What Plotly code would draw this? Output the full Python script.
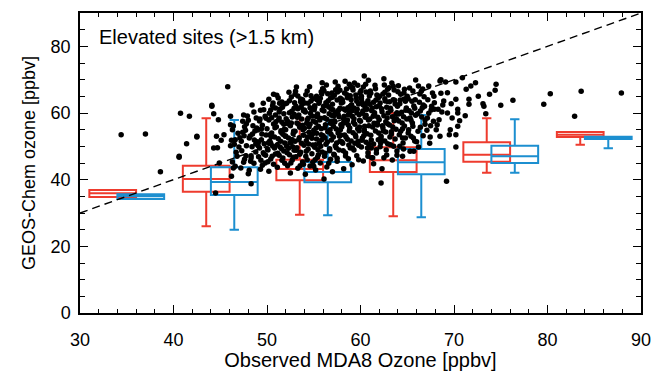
import plotly.graph_objects as go

# ---------------- data ----------------
bin_start = [30, 40, 50, 60, 70, 80]

red_q1 = [34.8, 36.4, 39.8, 42.3, 45.4, 52.8]
red_med = [35.9, 40.2, 43.2, 45.8, 47.5, 53.5]
red_q3 = [36.9, 44.2, 46.0, 49.7, 51.2, 54.3]
red_lo = [34.8, 26.0, 29.5, 29.0, 42.1, 50.5]
red_hi = [36.9, 58.4, 58.4, 60.0, 58.4, 54.3]

blue_q1 = [34.2, 35.4, 39.2, 41.6, 45.0, 52.2]
blue_med = [35.0, 39.3, 42.3, 45.2, 47.0, 52.5]
blue_q3 = [35.6, 43.7, 45.3, 49.2, 50.2, 52.9]
blue_lo = [34.2, 25.0, 29.3, 28.7, 42.1, 49.4]
blue_hi = [35.6, 57.9, 58.0, 59.4, 58.1, 52.9]

# scatter: (observed MDA8, GEOS-Chem) pairs
scatter_points = [
    # sparse left side
    (34.4, 53.5), (37.0, 53.7), (38.6, 42.4), (40.6, 47.0), (40.75, 59.9), (41.7, 59.0),
    (41.4, 50.8), (42.5, 53.0), (44.1, 62.0), (44.3, 59.8), (44.6, 53.0), (44.7, 49.6),
    (44.8, 58.0), (45.8, 67.9), (46.1, 59.0), (47.5, 59.4), (47.8, 56.8), (46.1, 56.5),
    (47.4, 54.2), (46.3, 55.0), (45.4, 53.5), (45.1, 51.8), (44.3, 49.5), (46.1, 50.2),
    (46.6, 52.0), (40.6, 46.7), (44.9, 45.0), (46.2, 41.0), (48.0, 41.8), (48.3, 38.8),
    (44.5, 36.0), (46.4, 43.5), (42.5, 52.8), (44.1, 62.3),
    # x 46-47
    (46.3, 45.3), (46.7, 48.2), (46.5, 50.6), (46.9, 53.9), (46.4, 56.1), (46.8, 47.0),
    (46.2, 51.8), (46.6, 44.0),
    # x 47-48
    (47.2, 43.5), (47.6, 46.1), (47.3, 48.7), (47.8, 50.2), (47.1, 52.6), (47.7, 54.8),
    (47.4, 57.5), (47.9, 59.1), (47.5, 45.2), (47.0, 49.8), (47.6, 55.9),
    (47.25, 51.5), (47.75, 47.2), (47.55, 53.2),
    # x 48-49
    (48.1, 42.8), (48.6, 44.9), (48.3, 46.5), (48.8, 48.3), (48.4, 49.9), (48.9, 51.4),
    (48.2, 53.1), (48.7, 54.6), (48.5, 56.2), (48.0, 57.8), (48.6, 60.3), (48.3, 47.2),
    (48.8, 50.7), (48.1, 52.5), (48.9, 55.5), (48.4, 62.4),
    (48.25, 45.5), (48.65, 51.9), (48.85, 58.5), (48.45, 53.7),
    # x 49-50
    (49.3, 43.1), (49.8, 45.0), (49.1, 46.9), (49.6, 48.1), (49.2, 49.5), (49.7, 50.8),
    (49.4, 52.0), (49.9, 53.4), (49.0, 54.9), (49.5, 56.3), (49.2, 57.6), (49.8, 59.0),
    (49.3, 60.8), (49.6, 62.9), (49.7, 47.6), (49.1, 51.3), (49.4, 55.2), (49.9, 58.4),
    (49.5, 44.3),
    (49.05, 50.2), (49.45, 53.7), (49.85, 47.3), (49.25, 58.2), (49.65, 61.0), (49.35, 45.8),
    # x 50-51
    (50.2, 42.5), (50.7, 44.6), (50.4, 46.2), (50.9, 47.7), (50.1, 48.9), (50.6, 50.1),
    (50.3, 51.6), (50.8, 52.8), (50.5, 54.0), (50.0, 55.3), (50.7, 56.7), (50.2, 57.9),
    (50.9, 59.4), (50.4, 60.9), (50.6, 62.2), (50.7, 65.6), (50.1, 45.4), (50.8, 49.5),
    (50.3, 53.5), (50.5, 58.6), (50.9, 61.5), (50.4, 50.9), (50.2, 64.1),
    (50.15, 51.1), (50.55, 47.0), (50.85, 55.6), (50.25, 59.9), (50.65, 63.0), (50.45, 52.9),
    (50.95, 57.4), (50.05, 49.2),
    # x 51-52
    (51.1, 43.7), (51.6, 45.8), (51.3, 47.3), (51.8, 48.6), (51.4, 49.8), (51.9, 51.0),
    (51.2, 52.3), (51.7, 53.6), (51.5, 54.7), (51.0, 55.9), (51.6, 57.2), (51.3, 58.5),
    (51.8, 59.8), (51.4, 61.2), (51.9, 62.7), (51.2, 64.5), (51.7, 46.5), (51.1, 50.4),
    (51.5, 54.2), (51.8, 56.6), (51.3, 60.3), (51.6, 63.3), (51.9, 44.9),
    (51.15, 47.9), (51.45, 51.5), (51.85, 55.1), (51.25, 58.0), (51.65, 61.7), (51.05, 65.3),
    (51.55, 49.3), (51.95, 53.0), (51.35, 62.9),
    # x 52-53
    (52.5, 42.0), (52.2, 44.2), (52.7, 45.9), (52.4, 47.5), (52.9, 48.8), (52.1, 50.0),
    (52.6, 51.3), (52.3, 52.5), (52.8, 53.8), (52.0, 55.0), (52.5, 56.2), (52.2, 57.5),
    (52.7, 58.8), (52.4, 60.1), (52.9, 61.4), (52.1, 62.9), (52.6, 64.8), (53.0, 65.6),
    (52.8, 46.7), (52.3, 49.4), (52.0, 53.1), (52.6, 57.0), (52.9, 59.6), (52.4, 63.7),
    (52.7, 51.9),
    (52.15, 48.1), (52.45, 51.0), (52.85, 54.5), (52.25, 56.8), (52.65, 60.5), (52.95, 63.1),
    (52.35, 66.2), (52.55, 45.0), (52.75, 49.9), (52.05, 58.3),
    # x 53-54
    (53.3, 43.4), (53.8, 45.3), (53.1, 46.9), (53.6, 48.2), (53.2, 49.6), (53.7, 50.9),
    (53.4, 52.0), (53.9, 53.3), (53.0, 54.5), (53.5, 55.7), (53.2, 57.0), (53.7, 58.2),
    (53.4, 59.4), (53.9, 60.7), (53.1, 62.0), (53.6, 63.4), (53.3, 65.1), (53.8, 64.0),
    (53.5, 47.6), (53.0, 51.5), (53.8, 56.3), (53.3, 61.3), (53.6, 64.2), (53.9, 44.6),
    (53.2, 58.9),
    (53.15, 48.8), (53.45, 52.6), (53.85, 55.0), (53.25, 58.7), (53.65, 61.7), (53.05, 66.5),
    (53.55, 44.2), (53.95, 50.3), (53.35, 56.6), (53.75, 62.6), (53.15, 67.8),
    # x 54-55
    (54.1, 41.6), (54.6, 44.1), (54.3, 46.0), (54.8, 47.8), (54.4, 49.1), (54.9, 50.4),
    (54.2, 51.7), (54.7, 53.0), (54.5, 54.2), (54.0, 55.4), (54.6, 56.6), (54.3, 57.9),
    (54.8, 59.1), (54.1, 60.3), (54.6, 61.6), (54.4, 62.9), (54.9, 64.3), (54.3, 66.6),
    (54.7, 65.2), (54.2, 48.5), (54.8, 52.4), (54.5, 55.9), (54.0, 60.9), (54.7, 63.6),
    (54.4, 58.4), (54.9, 45.2),
    (54.15, 47.0), (54.45, 50.7), (54.85, 53.6), (54.25, 56.9), (54.65, 59.9), (54.05, 63.0),
    (54.55, 67.9), (54.95, 57.6), (54.35, 52.8), (54.75, 61.3), (54.15, 65.5),
    # x 55-56
    (55.2, 42.9), (55.7, 45.0), (55.4, 46.7), (55.9, 48.3), (55.1, 49.7), (55.6, 51.0),
    (55.3, 52.2), (55.8, 53.5), (55.0, 54.8), (55.5, 56.0), (55.2, 57.2), (55.7, 58.4),
    (55.4, 59.7), (55.9, 60.9), (55.1, 62.2), (55.6, 63.5), (55.3, 65.0), (55.8, 66.4),
    (55.9, 69.1), (55.0, 44.0), (55.5, 47.5), (55.2, 50.5), (55.8, 55.3), (55.4, 58.9),
    (55.1, 61.7), (55.7, 64.4), (55.3, 53.9),
    (55.15, 46.0), (55.45, 49.0), (55.85, 52.0), (55.25, 55.5), (55.65, 57.9), (55.05, 61.0),
    (55.55, 62.9), (55.95, 67.3), (55.35, 64.0), (55.75, 50.0), (55.25, 59.0), (55.85, 65.7),
    # x 56-57
    (56.1, 40.2), (56.4, 43.8), (56.8, 46.1), (56.2, 47.9), (56.7, 49.3), (56.3, 50.6),
    (56.9, 51.9), (56.0, 53.2), (56.5, 54.4), (56.2, 55.6), (56.8, 56.9), (56.4, 58.1),
    (56.9, 59.3), (56.1, 60.6), (56.6, 61.8), (56.3, 63.1), (56.8, 64.5), (56.5, 65.8),
    (56.0, 67.2), (56.7, 48.7), (56.2, 52.6), (56.9, 57.5), (56.4, 62.4), (56.1, 66.6),
    (56.6, 44.9),
    (56.15, 47.0), (56.45, 51.3), (56.85, 53.6), (56.25, 56.5), (56.65, 59.8), (56.05, 62.0),
    (56.55, 63.7), (56.95, 66.0), (56.35, 68.4), (56.75, 55.0), (56.15, 58.6), (56.85, 61.2),
    # x 57-58
    (57.0, 42.4), (57.5, 45.5), (57.2, 47.4), (57.7, 48.9), (57.3, 50.2), (57.8, 51.5),
    (57.1, 52.8), (57.6, 54.0), (57.4, 55.2), (57.9, 56.5), (57.2, 57.7), (57.7, 58.9),
    (57.3, 60.2), (57.8, 61.4), (57.0, 62.6), (57.5, 63.9), (57.2, 65.3), (57.8, 66.8),
    (57.3, 69.3), (57.6, 68.0), (57.4, 49.6), (57.9, 53.4), (57.1, 56.0), (57.6, 59.6),
    (57.0, 64.7), (57.5, 46.4),
    (57.15, 47.6), (57.45, 51.0), (57.85, 55.0), (57.25, 57.3), (57.65, 60.8), (57.05, 61.0),
    (57.55, 66.3), (57.95, 63.0), (57.35, 67.0), (57.75, 53.0), (57.15, 59.2), (57.85, 64.4),
    # x 58-59
    (58.2, 43.3), (58.7, 46.3), (58.4, 48.0), (58.9, 49.5), (58.1, 50.9), (58.6, 52.1),
    (58.3, 53.4), (58.8, 54.6), (58.0, 55.9), (58.5, 57.1), (58.2, 58.3), (58.7, 59.5),
    (58.4, 60.8), (58.9, 62.0), (58.1, 63.2), (58.6, 64.6), (58.3, 66.0), (58.8, 68.6),
    (58.5, 67.2), (58.0, 51.4), (58.7, 56.4), (58.2, 61.2), (58.9, 65.2), (58.4, 47.1),
    (58.6, 57.9),
    (58.15, 48.7), (58.45, 52.8), (58.85, 55.5), (58.25, 59.0), (58.65, 61.6), (58.05, 64.0),
    (58.55, 65.5), (58.95, 67.8), (58.35, 69.5), (58.75, 50.4), (58.15, 56.9), (58.85, 60.2),
    # x 59-60
    (59.1, 44.5), (59.6, 47.2), (59.3, 48.9), (59.8, 50.3), (59.0, 51.6), (59.5, 52.9),
    (59.2, 54.1), (59.7, 55.3), (59.4, 56.6), (59.9, 57.8), (59.1, 59.0), (59.6, 60.2),
    (59.3, 61.5), (59.8, 62.7), (59.0, 64.0), (59.5, 65.4), (59.2, 66.9), (59.7, 68.3),
    (59.4, 50.9), (59.9, 55.8), (59.1, 60.7), (59.6, 63.5), (59.3, 58.3), (59.8, 46.0),
    (59.15, 49.5), (59.45, 53.4), (59.85, 54.7), (59.25, 57.2), (59.65, 61.1), (59.05, 62.5),
    (59.55, 64.6), (59.95, 66.1), (59.35, 69.0), (59.75, 51.5), (59.15, 67.6), (59.85, 59.5),
    # x 60-61
    (60.3, 45.6), (60.8, 48.1), (60.1, 49.8), (60.6, 51.2), (60.2, 52.5), (60.7, 53.8),
    (60.4, 55.0), (60.9, 56.2), (60.0, 57.5), (60.5, 58.7), (60.2, 59.9), (60.7, 61.1),
    (60.3, 62.4), (60.8, 63.7), (60.1, 65.0), (60.6, 66.3), (60.3, 67.8), (60.4, 71.1),
    (60.9, 50.6), (60.4, 54.5), (60.6, 59.3), (60.1, 64.3), (60.8, 47.0), (60.5, 61.8),
    (60.15, 51.8), (60.45, 56.0), (60.85, 57.9), (60.25, 60.6), (60.65, 62.9), (60.05, 66.7),
    (60.55, 68.6), (60.95, 65.1), (60.35, 53.2), (60.75, 49.5), (60.15, 63.3), (60.85, 69.8),
    # x 61-62
    (61.2, 46.6), (61.7, 49.0), (61.4, 50.7), (61.9, 52.0), (61.1, 53.3), (61.6, 54.6),
    (61.3, 55.8), (61.8, 57.0), (61.0, 58.2), (61.5, 59.5), (61.2, 60.7), (61.7, 61.9),
    (61.4, 63.2), (61.9, 64.5), (61.1, 65.9), (61.6, 67.3), (61.3, 46.6), (61.8, 56.4),
    (61.5, 60.1), (61.0, 62.6), (61.7, 48.0), (61.4, 44.8),
    (61.15, 51.9), (61.45, 56.9), (61.85, 58.7), (61.25, 61.5), (61.65, 63.9), (61.05, 66.6),
    (61.55, 68.3), (61.95, 54.0), (61.35, 59.0), (61.75, 65.4), (61.15, 49.5),
    # x 62-63
    (62.3, 43.3), (62.8, 47.4), (62.1, 49.9), (62.6, 51.6), (62.2, 53.0), (62.7, 54.3),
    (62.4, 55.5), (62.9, 56.8), (62.0, 58.0), (62.5, 59.2), (62.3, 60.4), (62.8, 61.7),
    (62.1, 63.0), (62.6, 64.3), (62.4, 65.7), (62.9, 67.1), (62.5, 70.3), (62.2, 52.3),
    (62.7, 57.4), (62.0, 62.2), (62.6, 66.2), (62.2, 39.0), (62.5, 46.6), (62.9, 50.8),
    (62.15, 51.0), (62.45, 54.6), (62.85, 58.5), (62.25, 61.3), (62.65, 63.6), (62.05, 65.0),
    (62.55, 68.4), (62.95, 60.0), (62.35, 56.2), (62.75, 48.9),
    # x 63-64
    (63.4, 45.9), (63.9, 48.6), (63.2, 50.5), (63.7, 52.2), (63.3, 53.7), (63.8, 55.1),
    (63.1, 56.4), (63.6, 57.7), (63.4, 58.9), (63.9, 60.1), (63.2, 61.4), (63.7, 62.7),
    (63.5, 64.0), (63.0, 65.4), (63.6, 66.9), (63.3, 54.4), (63.8, 59.6), (63.1, 63.4),
    (63.9, 47.3), (63.5, 68.0),
    (63.15, 52.8), (63.45, 55.8), (63.85, 58.2), (63.25, 60.8), (63.65, 63.8), (63.05, 67.6),
    (63.55, 50.0), (63.95, 62.0), (63.35, 69.0),
    # x 64-65
    (64.5, 47.0), (64.2, 50.0), (64.8, 52.5), (64.3, 54.5), (64.7, 56.1), (64.1, 57.6),
    (64.6, 58.9), (64.4, 60.2), (64.9, 61.5), (64.2, 62.8), (64.7, 64.2), (64.3, 65.6),
    (64.7, 67.1), (64.5, 55.3), (64.1, 59.7), (64.8, 63.5), (64.5, 52.5), (64.6, 49.2),
    (64.0, 66.4),
    (64.15, 53.5), (64.45, 57.0), (64.85, 60.8), (64.25, 63.9), (64.65, 66.0), (64.05, 68.2),
    (64.55, 51.0), (64.95, 58.2),
    # x 65-66
    (65.3, 48.5), (65.8, 51.6), (65.1, 54.0), (65.6, 56.0), (65.4, 57.8), (65.9, 59.3),
    (65.2, 60.7), (65.7, 62.1), (65.5, 63.5), (65.0, 65.0), (65.6, 66.6), (65.9, 69.9),
    (65.3, 58.5), (65.8, 61.4), (65.4, 53.0), (65.7, 48.5), (65.1, 64.3),
    (65.15, 55.0), (65.45, 60.0), (65.85, 64.0), (65.25, 67.5), (65.65, 52.5), (65.55, 57.0),
    # x 66-67
    (66.2, 49.8), (66.7, 53.2), (66.4, 55.7), (66.9, 57.9), (66.1, 59.8), (66.6, 61.5),
    (66.3, 63.2), (66.8, 64.9), (66.5, 66.5), (66.2, 68.1), (66.9, 56.6), (66.4, 60.6),
    (66.7, 62.4), (66.0, 51.4),
    (66.15, 54.5), (66.55, 58.8), (66.85, 62.0), (66.35, 65.7), (66.65, 67.2),
    # x 67-68
    (67.4, 50.9), (67.1, 54.8), (67.8, 57.5), (67.3, 59.9), (67.6, 62.0), (67.2, 64.0),
    (67.7, 66.0), (67.3, 68.1), (67.9, 61.1), (67.5, 56.2), (67.9, 63.1),
    (67.15, 58.5), (67.55, 60.9), (67.85, 65.0), (67.45, 52.8),
    # x 68-69
    (68.5, 53.0), (68.2, 56.5), (68.4, 58.0), (68.7, 60.3), (68.3, 61.1), (68.9, 63.6),
    (68.6, 65.9), (68.5, 69.6), (68.6, 70.0), (68.1, 55.0), (68.8, 62.4),
    # x 69-70
    (69.6, 55.0), (69.8, 58.5), (69.3, 60.0), (69.3, 66.1), (69.1, 69.3), (69.2, 39.5),
    (69.5, 53.5), (69.7, 62.8),
    # x 70-72
    (70.2, 49.8), (70.2, 53.5), (70.4, 56.0), (70.4, 60.0), (70.4, 61.1), (70.2, 64.1),
    (70.2, 69.3), (70.6, 57.7), (71.6, 62.6), (71.6, 64.1), (71.3, 67.1), (71.8, 68.1),
    (70.9, 70.6), (71.2, 59.2),
    # x 72 and above
    (72.3, 69.1), (73.2, 62.0), (72.6, 65.0), (73.4, 59.8), (73.8, 65.6), (73.1, 62.8),
    (74.5, 68.6), (74.4, 66.8), (75.0, 62.3), (76.3, 63.8), (79.6, 62.6), (80.3, 65.8),
    (83.6, 66.5), (82.9, 59.0), (87.9, 66.0),
]

one_to_one = [30, 90]

RED = "#EE3B2E"
BLUE = "#1C8FD0"
FONT = "Liberation Sans, Arial, sans-serif"

obs_x = [p[0] for p in scatter_points]
mod_y = [p[1] for p in scatter_points]

fig = go.Figure()

fig.add_trace(go.Scatter(
    x=one_to_one, y=one_to_one, mode="lines",
    line=dict(color="black", width=1.4, dash="8px,5px"),
    hoverinfo="skip", showlegend=False))

fig.add_trace(go.Scatter(
    x=obs_x, y=mod_y, mode="markers",
    marker=dict(color="black", size=5.5, line=dict(width=0)),
    showlegend=False))

red_x = [b + 3.5 for b in bin_start]
blue_x = [b + 6.5 for b in bin_start]

fig.add_trace(go.Box(
    x=red_x, q1=red_q1, median=red_med, q3=red_q3,
    lowerfence=red_lo, upperfence=red_hi,
    width=5, whiskerwidth=0.2, boxpoints=False,
    fillcolor="rgba(0,0,0,0)", line=dict(color=RED, width=2),
    showlegend=False))

fig.add_trace(go.Box(
    x=blue_x, q1=blue_q1, median=blue_med, q3=blue_q3,
    lowerfence=blue_lo, upperfence=blue_hi,
    width=5, whiskerwidth=0.2, boxpoints=False,
    fillcolor="rgba(0,0,0,0)", line=dict(color=BLUE, width=2),
    showlegend=False))

axis_common = dict(
    showline=True, linecolor="black", linewidth=1.5, mirror="allticks",
    ticks="inside", ticklen=8, tickwidth=1, tickcolor="black",
    showgrid=False, zeroline=False,
    tickfont=dict(family=FONT, size=18, color="black"),
)

fig.update_layout(
    width=654, height=371,
    margin=dict(l=80, r=13, t=13, b=58, autoexpand=False),
    paper_bgcolor="white", plot_bgcolor="white",
    boxmode="overlay",
    font=dict(family=FONT, color="black"),
    xaxis=dict(
        range=[30, 90], tickmode="linear", tick0=30, dtick=10,
        minor=dict(dtick=2, ticklen=4, ticks="inside", tickcolor="black"),
        ticklabelstandoff=10,
        title=dict(text="Observed MDA8 Ozone [ppbv]", font=dict(family=FONT, size=20), standoff=8),
        **axis_common),
    yaxis=dict(
        range=[0, 90], tickmode="linear", tick0=0, dtick=20,
        minor=dict(dtick=5, ticklen=5, ticks="inside", tickcolor="black"),
        ticklabelstandoff=4,
        title=dict(text="GEOS-Chem ozone [ppbv]", font=dict(family=FONT, size=18), standoff=10),
        **axis_common),
    annotations=[dict(
        text="Elevated sites (>1.5 km)", x=0.03, y=0.965, xref="paper", yref="paper",
        xanchor="left", yanchor="top", showarrow=False,
        font=dict(family=FONT, size=20, color="black"))],
)

fig.write_html(
    "out.html",
    config={"displayModeBar": False},
    post_script="document.body.style.margin='0px'; document.body.style.overflow='hidden';",
)
